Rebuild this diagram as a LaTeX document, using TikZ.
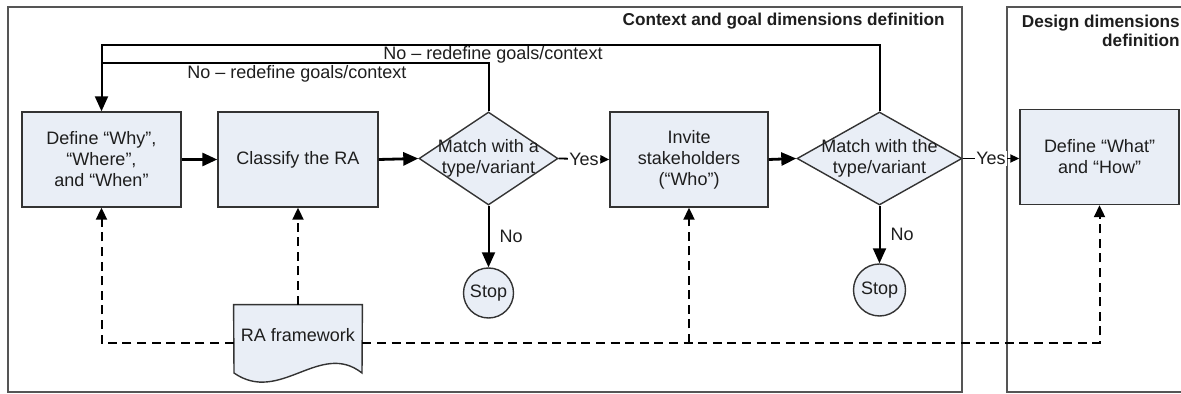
\documentclass[tikz,border=0pt]{standalone}
\usepackage{fontspec}
\setmainfont{Liberation Sans}
\usetikzlibrary{shapes.geometric,arrows.meta}
\definecolor{boxfill}{HTML}{E9EEF6}
\definecolor{edgegray}{HTML}{333333}
\definecolor{framegray}{HTML}{555555}
\definecolor{ink}{HTML}{1E1E1E}

\begin{document}
\begin{tikzpicture}[x=0.5pt,y=-0.5pt,
  every node/.style={font=\fontsize{9}{10.5}\selectfont, text=ink},
  process/.style={draw=edgegray, line width=0.7pt, fill=boxfill,
    minimum width=79.5pt, minimum height=47.5pt, inner sep=0pt, align=center},
  decision/.style={diamond, draw=edgegray, line width=0.7pt, fill=boxfill,
    inner sep=0pt, minimum height=46.5pt},
  stopnode/.style={circle, draw=edgegray, line width=0.7pt, fill=boxfill,
    inner sep=0pt, minimum size=25pt},
  region/.style={draw=framegray, line width=0.75pt},
  regiontitle/.style={font=\bfseries\fontsize{8.6}{9.6}\selectfont, align=right, inner sep=0pt},
  flow/.style={draw=black, line width=1.4pt, -{Triangle[length=7.5pt,width=6.5pt]}},
  yesflow/.style={draw=black, line width=0.9pt, -{Triangle[length=4.5pt,width=4pt]}},
  yeslabel/.style={fill=white, inner sep=0.6pt},
  noflow/.style={draw=black, line width=1pt, -{Triangle[length=7.5pt,width=6.5pt]}},
  loopline/.style={draw=black, line width=1pt},
  dep/.style={draw=black, line width=1pt, dash pattern=on 4.5pt off 2.8pt,
    -{Triangle[length=6pt,width=5.5pt]}},
  deplink/.style={draw=black, line width=1pt, dash pattern=on 4.5pt off 2.8pt},
  looplabel/.style={anchor=west, inner sep=0pt}
]
\useasboundingbox (0,0) rectangle (1181,394);
\clip (0,0) rectangle (1181,394);

% phase regions
\draw[region] (8,7) rectangle (962,392);
\draw[region] (1007,7) rectangle (1200,392);
\node[regiontitle, anchor=east] (t1) at (945,21) {Context and goal dimensions definition};
\node[regiontitle, anchor=east] (t2) at (1180,31) {Design dimensions\\definition};

% process steps
\node[process] (b1) at (101.5,159.5) {Define “Why”,\\“Where”,\\and “When”};
\node[process, minimum width=80pt] (b2) at (298,159.5) {Classify the RA};
\node[decision, minimum width=69.5pt] (d1) at (488.5,158.5) {};
\node[align=center, inner sep=0pt] (d1t) at (488.5,158) {Match with a\\type/variant};
\node[process, minimum width=79pt] (b3) at (689,159.5) {Invite\\stakeholders\\(“Who”)};
\node[decision, minimum width=82.5pt] (d2) at (879.5,158.5) {};
\node[align=center, inner sep=0pt] (d2t) at (879.5,158) {Match with the\\type/variant};
\node[process] (b4) at (1099.5,157) {Define “What”\\and “How”};

% terminators
\node[stopnode] (s1) at (488.5,293) {Stop};
\node[stopnode, minimum size=26pt] (s2) at (879.5,290) {Stop};

% framework document
\node[inner sep=0pt, minimum width=64pt, minimum height=38pt] (doc) at (298,343) {};
\draw[draw=edgegray, line width=0.7pt, fill=boxfill]
  (doc.north west) -- (doc.north east) -- (362,373)
  .. controls (320,340) and (280,405) .. (234,373) -- cycle;
\node[inner sep=0pt] (doct) at (298,335) {RA framework};

% main flow
\draw[flow] (b1.east) -- (b2.west);
\draw[flow] (b2.east) -- (d1.west);
\draw[yesflow] (d1.east) -- node[yeslabel] (y1) {Yes} (b3.west);
\draw[flow] (b3.east) -- (d2.west);
\draw[yesflow] (d2.east) -- node[yeslabel] (y2) {Yes} (d2.east -| b4.west);

% negative outcomes
\draw[noflow] (d1.south) -- node[right, inner sep=5pt] (n1) {No} (s1.north);
\draw[noflow] (d2.south) -- node[right, inner sep=5pt] (n2) {No} (s2.north);

% feedback loops
\coordinate (outerY) at (0,45);
\coordinate (innerY) at (0,63);
\draw[loopline] (d1.north) |- (b1.north |- innerY);
\draw[loopline, -{Triangle[length=7.5pt,width=6.5pt]}] (d2.north) |- (b1.north |- outerY) -- (b1.north);
\node[looplabel] (l1) at (383,55) {No – redefine goals/context};
\node[looplabel] (l2) at (187,74) {No – redefine goals/context};

% framework usage
\coordinate (tap) at (b3.south |- doc.east);
\draw[dep] (doc.west) -| (b1.south);
\draw[dep] (doc.north) -- (b2.south);
\draw[dep] (doc.east) -| (b4.south);
\draw[dep] (tap) -- (b3.south);
\end{tikzpicture}
\end{document}
